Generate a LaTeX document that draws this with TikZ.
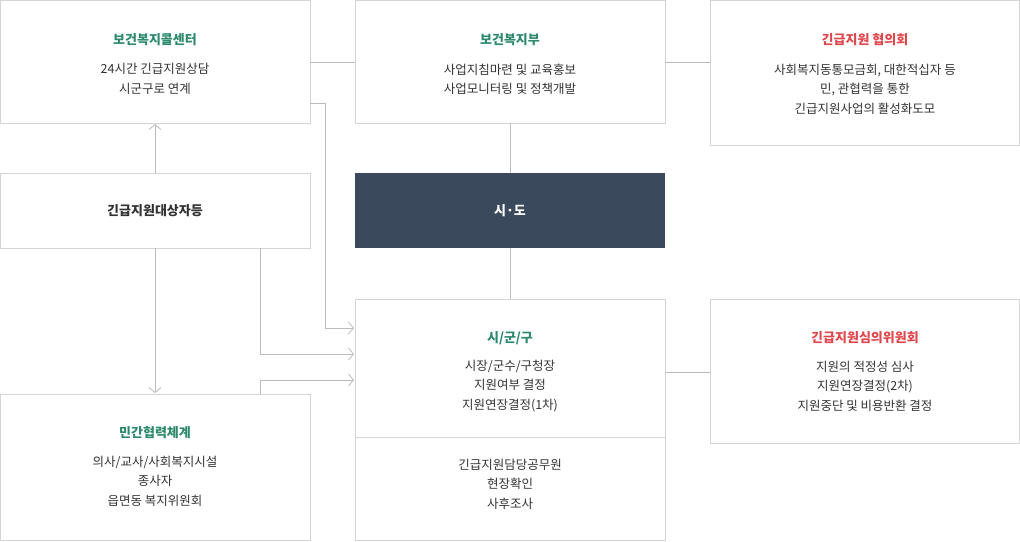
\documentclass[tikz,border=0pt]{standalone}
\usepackage{fontspec}
\setmainfont{Noto Sans CJK KR}
\usetikzlibrary{arrows.meta}
\definecolor{boxline}{HTML}{D5D5D5}
\definecolor{linkgray}{HTML}{BBBBBB}
\definecolor{titlegreen}{HTML}{2E8B6A}
\definecolor{titlered}{HTML}{E0474C}
\definecolor{darkfill}{HTML}{3A4A5C}
\definecolor{bodytext}{HTML}{333333}

\begin{document}
\begin{tikzpicture}[x=1pt,y=-1pt,
	panel/.style={draw=boxline,line width=0.8pt,fill=white},
	gtitle/.style={text=titlegreen,font=\fontsize{13}{16}\selectfont\bfseries},
	rtitle/.style={text=titlered,font=\fontsize{13}{16}\selectfont\bfseries},
	body/.style={text=bodytext,align=center,font=\fontsize{12.5}{19.5}\selectfont},
	link/.style={draw=linkgray,line width=0.8pt},
	arrowlink/.style={link,-{Straight Barb[length=5pt,width=12pt]}}]
	\useasboundingbox (0,0) rectangle (1020,541);
	% boxes
	\draw [panel] (0.5,0.5) rectangle (310,123);
	\draw [panel] (355,0.5) rectangle (665,123);
	\draw [panel] (710,0.5) rectangle (1019.5,145);
	\draw [panel] (0.5,173) rectangle (310,248);
	\fill [darkfill] (355,173) rectangle (665,248);
	\draw [panel] (355,299) rectangle (665,540.5);
	\draw [boxline,line width=0.8pt] (355,437) -- (665,437);
	\draw [panel] (710,299) rectangle (1019.5,443);
	\draw [panel] (0.5,394) rectangle (310,540.5);
	% texts
	\node [gtitle] (callT) at (155,40) {보건복지콜센터};
	\node [body] (callB) at (155,79) {24시간 긴급지원상담\\시군구로 연계};
	\node [gtitle] (mohT) at (510,40) {보건복지부};
	\node [body] (mohB) at (510,79) {사업지침마련 및 교육홍보\\사업모니터링 및 정책개발};
	\node [rtitle] (councilT) at (865,40) {긴급지원 협의회};
	\node [body] (councilB) at (865,89) {사회복지동통모금회, 대한적십자 등\\민, 관협력을 통한\\긴급지원사업의 활성화도모};
	\node [text=bodytext,font=\fontsize{13}{16}\selectfont\bfseries] (target) at (155,211) {긴급지원대상자등};
	\node [text=white,font=\fontsize{13}{16}\selectfont\bfseries] (sido) at (510,211) {시·도};
	\node [gtitle] (sggT) at (510,338) {시/군/구};
	\node [body] (sggB) at (510,386) {시장/군수/구청장\\지원여부 결정\\지원연장결정(1차)};
	\node [body] (sggC) at (510,484) {긴급지원담당공무원\\현장확인\\사후조사};
	\node [rtitle] (reviewT) at (865,338) {긴급지원심의위원회};
	\node [body] (reviewB) at (865,386) {지원의 적정성 심사\\지원연장결정(2차)\\지원중단 및 비용반환 결정};
	\node [gtitle] (privT) at (155,433) {민간협력체계};
	\node [body] (privB) at (155,481) {의사/교사/사회복지시설\\종사자\\읍면동 복지위원회};
	% connectors
	\coordinate (callR) at (310,62);
	\coordinate (mohL) at (355,62);
	\coordinate (mohR) at (665,62);
	\coordinate (councilL) at (710,62);
	\draw [link] (callR) -- (mohL);
	\draw [link] (mohR) -- (councilL);
	\draw [link] (510,123) -- (510,173);
	\draw [link] (510,248) -- (510,299);
	\draw [link] (665,372) -- (710,372);
	\draw [arrowlink] (155,173) -- (155,124);
	\draw [arrowlink] (155,248) -- (155,393);
	\draw [arrowlink] (310,103) -- (325,103) -- (325,328) -- (354,328);
	\draw [arrowlink] (260,248) -- (260,354) -- (354,354);
	\draw [arrowlink] (260,394) -- (260,380) -- (354,380);
\end{tikzpicture}
\end{document}
